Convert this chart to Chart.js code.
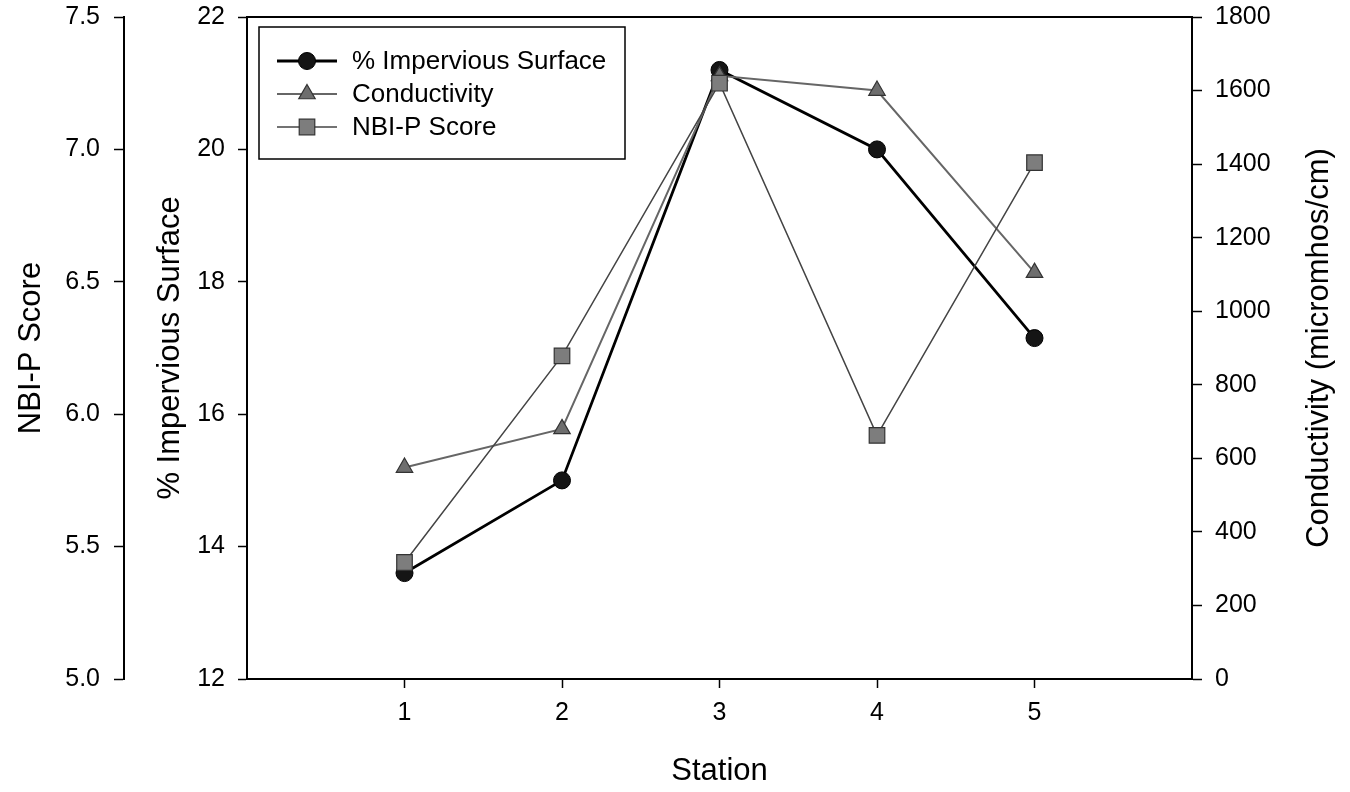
<!DOCTYPE html>
<html>
<head>
<meta charset="utf-8">
<title>Station chart</title>
<script src="https://cdn.jsdelivr.net/npm/chart.js"></script>
<style>
  html, body { margin: 0; padding: 0; background: #fff; }
  #wrap { width: 1350px; height: 792px; }
</style>
</head>
<body>
<div id="wrap"><canvas id="c" width="1350" height="792"></canvas></div>
<script>
// ---- data ----
const stations = [1, 2, 3, 4, 5];
const impervious = [13.6, 15.0, 21.2, 20.0, 17.15];
const conductivity = [575, 680, 1640, 1600, 1105];
const nbiScore = [5.44, 6.22, 7.25, 5.92, 6.95];
const seriesLabels = ['% Impervious Surface', 'Conductivity', 'NBI-P Score'];
const imperviousRange = [12, 22];
const nbiRange = [5.0, 7.5];
const conductivityRange = [0, 1800];
const stationRange = [0, 6];
const axisTitles = { x: 'Station', nbi: 'NBI-P Score', imp: '% Impervious Surface', cond: 'Conductivity (micromhos/cm)' };

const FONT = '"Liberation Sans", Arial, Helvetica, sans-serif';
const toXY = (vals) => vals.map((v, i) => ({ x: stations[i], y: v }));

const frameTop = {
  id: 'frameTop',
  afterDraw(chart) {
    const a = chart.chartArea, ctx = chart.ctx;
    ctx.save();
    ctx.strokeStyle = '#000'; ctx.lineWidth = 2;
    ctx.beginPath(); ctx.moveTo(a.left - 1, a.top); ctx.lineTo(a.right + 1, a.top); ctx.stroke();
    ctx.restore();
  }
};

const rightTitle = {
  id: 'rightTitle',
  afterDraw(chart) {
    const s = chart.scales.yCond, ctx = chart.ctx, a = chart.chartArea;
    ctx.save();
    ctx.translate(s.right - 31, (a.top + a.bottom) / 2);
    ctx.rotate(-Math.PI / 2);
    ctx.font = '31px ' + FONT;
    ctx.fillStyle = '#000';
    ctx.textAlign = 'center';
    ctx.textBaseline = 'middle';
    ctx.fillText(axisTitles.cond, 0, 0);
    ctx.restore();
  }
};

const insetLegend = {
  id: 'insetLegend',
  afterDatasetsDraw(chart) {
    const ctx = chart.ctx, a = chart.chartArea;
    const x0 = a.left + 12, y0 = a.top + 10, w = 366, h = 132;
    ctx.save();
    ctx.fillStyle = '#fff'; ctx.fillRect(x0, y0, w, h);
    ctx.lineWidth = 1.5; ctx.strokeStyle = '#000'; ctx.strokeRect(x0, y0, w, h);
    chart.data.datasets.forEach((ds, i) => {
      const cy = y0 + 34 + i * 33;
      ctx.beginPath(); ctx.moveTo(x0 + 18, cy); ctx.lineTo(x0 + 78, cy);
      ctx.strokeStyle = ds.borderColor; ctx.lineWidth = ds.borderWidth; ctx.stroke();
      ctx.fillStyle = ds.pointBackgroundColor; ctx.strokeStyle = ds.pointBorderColor; ctx.lineWidth = ds.pointBorderWidth;
      Chart.helpers.drawPoint(ctx, { pointStyle: ds.pointStyle, radius: ds.pointRadius, borderWidth: ds.pointBorderWidth, rotation: 0 }, x0 + 48, cy);
      ctx.fillStyle = '#000'; ctx.font = '26px ' + FONT; ctx.textAlign = 'left'; ctx.textBaseline = 'middle';
      ctx.fillText(ds.label, x0 + 93, cy + 1);
    });
    ctx.restore();
  }
};

const tickFont = { family: FONT, size: 25 };
const titleFont = { family: FONT, size: 31 };
const gridOpts = (len) => ({ display: true, drawOnChartArea: false, drawTicks: true, tickLength: len, tickColor: '#000', tickWidth: 1.5 });
const borderOpts = { display: true, color: '#000', width: 2 };
const plain = (v) => String(v);
const fixSize = (prop, size) => (s) => {
  s[prop] = size;
  s.paddingTop = 0; s.paddingBottom = 0; s.paddingLeft = 0; s.paddingRight = 0;
};

new Chart(document.getElementById('c'), {
  type: 'line',
  data: {
    datasets: [
      {
        label: seriesLabels[0], data: toXY(impervious), yAxisID: 'yImp', order: 3,
        borderColor: '#000', borderWidth: 2.8,
        pointStyle: 'circle', pointRadius: 8.5, pointBackgroundColor: '#151515', pointBorderColor: '#000', pointBorderWidth: 1
      },
      {
        label: seriesLabels[1], data: toXY(conductivity), yAxisID: 'yCond', order: 2,
        borderColor: '#666', borderWidth: 2,
        pointStyle: 'triangle', pointRadius: 9.5, pointBackgroundColor: '#6e6e6e', pointBorderColor: '#333', pointBorderWidth: 1.2
      },
      {
        label: seriesLabels[2], data: toXY(nbiScore), yAxisID: 'yNbi', order: 1,
        borderColor: '#444', borderWidth: 1.5,
        pointStyle: 'rect', pointRadius: 11, pointBackgroundColor: '#7d7d7d', pointBorderColor: '#333', pointBorderWidth: 1.2
      }
    ]
  },
  options: {
    responsive: false,
    animation: false,
    devicePixelRatio: 1,
    layout: { padding: { top: 17, left: 0, right: 0, bottom: 0 } },
    plugins: { legend: { display: false }, tooltip: { enabled: false } },
    elements: { line: { tension: 0 } },
    scales: {
      x: {
        type: 'linear', position: 'bottom', min: stationRange[0], max: stationRange[1],
        afterBuildTicks: (s) => { s.ticks = stations.map(v => ({ value: v })); },
        ticks: { font: tickFont, color: '#000', padding: 10, maxRotation: 0, callback: plain },
        grid: gridOpts(9), border: borderOpts,
        title: { display: true, text: axisTitles.x, font: titleFont, color: '#000', padding: { top: 20, bottom: 2 } },
        afterFit: fixSize('height', 113)
      },
      yNbi: {
        type: 'linear', position: 'left', weight: 10, min: nbiRange[0], max: nbiRange[1],
        ticks: { stepSize: 0.5, font: tickFont, color: '#000', padding: 14, callback: (v) => Number(v).toFixed(1) },
        grid: gridOpts(10), border: borderOpts,
        title: { display: true, text: axisTitles.nbi, font: titleFont, color: '#000', padding: { top: 13, bottom: 0 } },
        afterFit: fixSize('width', 124)
      },
      yImp: {
        type: 'linear', position: 'left', weight: 0, min: imperviousRange[0], max: imperviousRange[1],
        ticks: { stepSize: 2, font: tickFont, color: '#000', padding: 13, callback: plain },
        grid: gridOpts(9), border: borderOpts,
        title: { display: true, text: axisTitles.imp, font: titleFont, color: '#000', padding: { top: 28, bottom: 0 } },
        afterFit: fixSize('width', 123)
      },
      yCond: {
        type: 'linear', position: 'right', min: conductivityRange[0], max: conductivityRange[1],
        ticks: { stepSize: 200, font: tickFont, color: '#000', padding: 13, callback: plain },
        grid: gridOpts(10), border: borderOpts,
        title: { display: false },
        afterFit: fixSize('width', 158)
      }
    }
  },
  plugins: [frameTop, rightTitle, insetLegend]
});
</script>
</body>
</html>
